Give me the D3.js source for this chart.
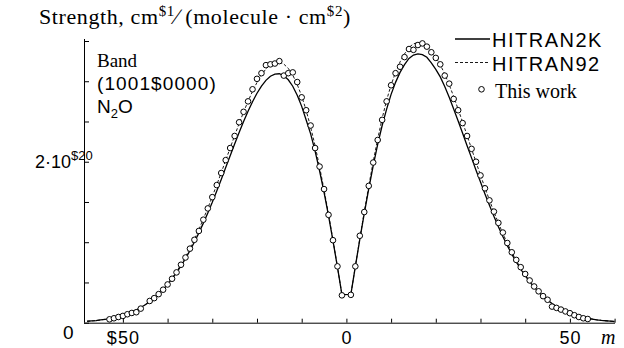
<!DOCTYPE html>
<html>
<head>
<meta charset="utf-8">
<script src="https://cdn.jsdelivr.net/npm/d3@7"></script>
<style>
body { margin: 0; background: #fff; }
.serif { font-family: "Liberation Serif", "Times New Roman", serif; }
.sans { font-family: "Liberation Sans", Arial, sans-serif; }
</style>
</head>
<body>
<div id="chart"></div>
<script>
// rotational index m for the line series: P branch -58..-1, R branch 1..60
var lineM = d3.range(-58, 0).concat(d3.range(1, 61));

// HITRAN2K line strengths, units of 1e-20 cm-1/(molecule cm-2)
var hitran2k = [
  0.018, 0.022, 0.027, 0.034, 0.042, 0.051, 0.063, 0.076, 0.092, 0.110,
  0.132, 0.158, 0.189, 0.223, 0.262, 0.307, 0.356, 0.413, 0.476, 0.545,
  0.622, 0.706, 0.797, 0.896, 1.003, 1.116, 1.237, 1.364, 1.496, 1.637,
  1.780, 1.927, 2.074, 2.219, 2.363, 2.499, 2.628, 2.746, 2.851, 2.940,
  3.011, 3.063, 3.089, 3.093, 3.068, 3.018, 2.938, 2.827, 2.688, 2.519,
  2.346, 2.132, 1.888, 1.620, 1.329, 1.018, 0.690, 0.349,
  0.351, 0.697, 1.035, 1.357, 1.664, 1.951, 2.215, 2.450, 2.654, 2.837,
  2.986, 3.110, 3.206, 3.283, 3.326, 3.341, 3.331, 3.298, 3.228, 3.147,
  3.054, 2.936, 2.802, 2.655, 2.506, 2.354, 2.198, 2.048, 1.895, 1.747,
  1.600, 1.460, 1.322, 1.193, 1.071, 0.958, 0.852, 0.754, 0.664, 0.584,
  0.508, 0.442, 0.381, 0.327, 0.280, 0.239, 0.201, 0.169, 0.142, 0.119,
  0.098, 0.081, 0.067, 0.055, 0.045, 0.036, 0.029, 0.024, 0.019, 0.015
];

// HITRAN92 line strengths
var hitran92 = [
  0.018, 0.022, 0.027, 0.034, 0.042, 0.051, 0.063, 0.076, 0.092, 0.110,
  0.132, 0.158, 0.189, 0.223, 0.262, 0.308, 0.359, 0.417, 0.483, 0.554,
  0.635, 0.723, 0.819, 0.924, 1.038, 1.159, 1.289, 1.424, 1.567, 1.714,
  1.864, 2.018, 2.172, 2.324, 2.474, 2.617, 2.752, 2.875, 2.985, 3.079,
  3.153, 3.207, 3.235, 3.239, 3.213, 3.160, 3.076, 2.960, 2.815, 2.638,
  2.431, 2.198, 1.936, 1.653, 1.349, 1.028, 0.693, 0.349,
  0.351, 0.700, 1.045, 1.378, 1.698, 2.001, 2.283, 2.539, 2.765, 2.955,
  3.110, 3.240, 3.340, 3.420, 3.465, 3.480, 3.470, 3.435, 3.370, 3.295,
  3.205, 3.090, 2.956, 2.809, 2.652, 2.491, 2.326, 2.160, 1.995, 1.833,
  1.675, 1.524, 1.377, 1.239, 1.109, 0.988, 0.876, 0.773, 0.678, 0.594,
  0.515, 0.446, 0.384, 0.328, 0.280, 0.239, 0.201, 0.169, 0.142, 0.119,
  0.098, 0.081, 0.067, 0.055, 0.045, 0.036, 0.029, 0.024, 0.019, 0.015
];

// "This work" measured points
var workM = [
  -53, -52, -51, -50, -49, -48, -47, -46, -44, -43, -42, -41, -40, -39, -38,
  -37, -36, -35, -34, -33, -32, -31, -30, -29, -28, -27, -26, -25, -24, -23,
  -22, -21, -20, -19, -18, -17, -16, -15, -14, -13, -12, -11, -10, -9, -8,
  -7, -6, -5, -4, -3, -2, -1,
  1, 2, 3, 4, 5, 6, 7, 8, 9, 10, 11, 12, 13, 14, 15, 16, 17, 18, 19, 20,
  21, 22, 23, 24, 25, 26, 27, 28, 29, 30, 31, 32, 33, 34, 35, 36, 37, 38,
  39, 40, 41, 42, 43, 44, 45, 46, 47, 48, 49, 50, 51, 52, 53, 54
];
var workS = [
  0.042, 0.055, 0.071, 0.084, 0.105, 0.121, 0.130, 0.175, 0.270, 0.305,
  0.355, 0.410, 0.475, 0.546, 0.625, 0.720, 0.810, 0.920, 1.030, 1.140,
  1.280, 1.420, 1.560, 1.710, 1.860, 2.020, 2.170, 2.320, 2.490, 2.620,
  2.750, 2.900, 3.030, 3.100, 3.200, 3.210, 3.220, 3.250, 3.070, 3.100,
  3.110, 2.990, 2.800, 2.640, 2.450, 2.170, 1.940, 1.660, 1.340, 1.025,
  0.700, 0.340,
  0.346, 0.700, 1.080, 1.375, 1.700, 1.990, 2.270, 2.520, 2.750, 2.950,
  3.100, 3.180, 3.300, 3.400, 3.390, 3.450, 3.470, 3.430, 3.360, 3.290,
  3.210, 3.070, 2.970, 2.780, 2.640, 2.480, 2.320, 2.160, 2.000, 1.830,
  1.670, 1.520, 1.380, 1.240, 1.120, 0.990, 0.875, 0.780, 0.690, 0.605,
  0.525, 0.450, 0.390, 0.330, 0.285, 0.200, 0.184, 0.163, 0.140, 0.118,
  0.093, 0.071, 0.055, 0.046
];

var xTicks = [-50, -40, -30, -20, -10, 0, 10, 20, 30, 40, 50, 60];
var xLabels = { "-50": "$50", "0": "0", "50": "50" };
var yTicks = [0, 0.5, 1, 1.5, 2, 2.5, 3, 3.5];

var W = 624, H = 348;
var svg = d3.select("#chart").append("svg")
  .attr("width", W)
  .attr("height", H)
  .style("display", "block")
  .style("background", "#fff");

var x = d3.scaleLinear().domain([-58.7, 60]).range([84, 614.6]);
var y = d3.scaleLinear().domain([0, 3.5]).range([322.7, 41]);

// axes, ticks pointing inward
var xAxis = svg.append("g")
  .attr("transform", "translate(0," + y(0) + ")")
  .call(d3.axisBottom(x).tickValues(xTicks).tickSizeInner(-4).tickSizeOuter(0)
    .tickPadding(9).tickFormat(function(d) { return xLabels[d] || ""; }));
xAxis.select(".domain").attr("d", "M" + x(-58.7) + ",0.5H" + 615);
xAxis.selectAll("line").attr("stroke", "#000").attr("stroke-width", 1);
xAxis.selectAll("text")
  .attr("class", "sans")
  .style("font-size", "18px")
  .attr("fill", "#000")
  .attr("letter-spacing", "1px");

var yAxis = svg.append("g")
  .attr("transform", "translate(" + x(-58.7) + ",0)")
  .call(d3.axisRight(y).tickValues(yTicks).tickSizeInner(5).tickSizeOuter(0)
    .tickFormat(""));
yAxis.select(".domain").attr("d", "M0.5," + y(0) + "V" + 39);
yAxis.selectAll("line").attr("stroke", "#000");

// y labels
svg.append("text").attr("class", "sans")
  .attr("x", 63).attr("y", 338.5)
  .style("font-size", "19px").text("0");
var lab2 = svg.append("text").attr("class", "sans")
  .attr("x", 35).attr("y", 167.5)
  .style("font-size", "18px");
lab2.append("tspan").text("2\u00b710");
lab2.append("tspan").attr("dy", -8).style("font-size", "13px").text("$20");

svg.append("text").attr("class", "serif")
  .attr("x", 601).attr("y", 344)
  .style("font-size", "20px").style("font-style", "italic").text("m");

// title
var title = svg.append("text").attr("class", "serif")
  .attr("x", 39).attr("y", 24)
  .attr("letter-spacing", "0.6px")
  .style("font-size", "22px");
title.append("tspan").text("Strength, cm");
title.append("tspan").attr("dy", -8).style("font-size", "15px").text("$1");
title.append("tspan").attr("dy", 8).text("\u2215 (molecule \u00b7 cm");
title.append("tspan").attr("dy", -8).style("font-size", "15px").text("$2");
title.append("tspan").attr("dy", 8).text(")");

// band annotation
svg.append("text").attr("class", "serif")
  .attr("x", 97).attr("y", 67)
  .style("font-size", "19px").text("Band");
svg.append("text").attr("class", "sans")
  .attr("x", 97).attr("y", 90)
  .style("font-size", "19px").attr("letter-spacing", "1.1px").text("(1001$0000)");
var n2o = svg.append("text").attr("class", "sans")
  .attr("x", 97).attr("y", 113)
  .style("font-size", "19px");
n2o.append("tspan").text("N");
n2o.append("tspan").attr("dy", 5).style("font-size", "13px").text("2");
n2o.append("tspan").attr("dy", -5).text("O");

// lines
var line = d3.line()
  .x(function(d) { return x(d[0]); })
  .y(function(d) { return y(d[1]); });

var d2k = lineM.map(function(m, i) { return [m, hitran2k[i]]; });
var d92 = lineM.map(function(m, i) { return [m, hitran92[i]]; });

svg.append("path").datum(d92)
  .attr("fill", "none").attr("stroke", "#000")
  .attr("stroke-width", 0.9).attr("stroke-dasharray", "3,2")
  .attr("d", line);
svg.append("path").datum(d2k)
  .attr("fill", "none").attr("stroke", "#000")
  .attr("stroke-width", 1.3)
  .attr("d", line);

svg.selectAll("circle.work")
  .data(workM.map(function(m, i) { return [m, workS[i]]; }))
  .enter().append("circle")
  .attr("class", "work")
  .attr("cx", function(d) { return x(d[0]); })
  .attr("cy", function(d) { return y(d[1]); })
  .attr("r", 2.8)
  .attr("fill", "#fff").attr("stroke", "#000").attr("stroke-width", 1);

// legend
var lg = svg.append("g");
lg.append("line").attr("x1", 455).attr("x2", 490).attr("y1", 39).attr("y2", 39)
  .attr("stroke", "#000").attr("stroke-width", 1.3);
lg.append("text").attr("class", "sans").attr("x", 492).attr("y", 47)
  .style("font-size", "20px").attr("letter-spacing", "1.5px").text("HITRAN2K");
lg.append("line").attr("x1", 455).attr("x2", 490).attr("y1", 62.5).attr("y2", 62.5)
  .attr("stroke", "#000").attr("stroke-width", 0.9).attr("stroke-dasharray", "3,2");
lg.append("text").attr("class", "sans").attr("x", 492).attr("y", 70.5)
  .style("font-size", "20px").attr("letter-spacing", "1.5px").text("HITRAN92");
lg.append("circle").attr("cx", 481.5).attr("cy", 89.3).attr("r", 2.8)
  .attr("fill", "#fff").attr("stroke", "#000");
lg.append("text").attr("class", "serif").attr("x", 495).attr("y", 97.5)
  .style("font-size", "20px").text("This work");
</script>
</body>
</html>
